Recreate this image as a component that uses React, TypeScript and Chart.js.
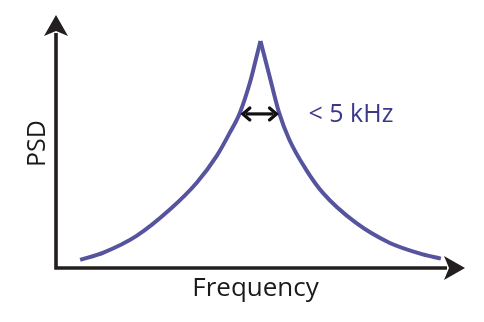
import React, { useEffect, useRef } from "react";
import { Chart, registerables } from "chart.js";

Chart.register(...registerables);

// Curve (arbitrary units: frequency 0-100, PSD 0-100)
const leftFreq = [5.9, 11.6, 19.7, 27.9, 34.4, 39.3, 42.5, 44.9, 47.4, 48.8, 50.0];
const leftPsd = [3.2, 6.1, 12.7, 23.2, 33.7, 44.3, 53.5, 61.1, 73.2, 82.0, 89.7];
const rightFreq = [50.0, 52.2, 54.6, 57.0, 61.1, 65.2, 73.3, 81.5, 89.7, 94.1];
const rightPsd = [89.7, 75.9, 61.1, 50.9, 39.0, 29.8, 17.9, 10.0, 5.4, 3.7];

// Width marker (double arrow) and labels
const widthMarkerFreq = [45.2, 54.4];
const widthMarkerPsd = 60.9;
const widthLabel = "< 5 kHz";
const xTitle = "Frequency";
const yTitle = "PSD";

const CURVE = "#57549f";
const AXIS = "#231f20";

function toPoints(xs: number[], ys: number[]) {
  return xs.map((x, i) => ({ x, y: ys[i] }));
}

const decorPlugin = {
  id: "decor",
  afterDraw(chart: any) {
    const ctx = chart.ctx as CanvasRenderingContext2D;
    const { left, right, top, bottom } = chart.chartArea;
    const xs = chart.scales.x;
    const ys = chart.scales.y;
    ctx.save();
    // axes
    ctx.strokeStyle = AXIS;
    ctx.fillStyle = AXIS;
    ctx.lineWidth = 3.6;
    ctx.beginPath();
    ctx.moveTo(left, bottom + 1.8);
    ctx.lineTo(left, top + 18);
    ctx.moveTo(left - 1.8, bottom);
    ctx.lineTo(right - 18, bottom);
    ctx.stroke();
    // y arrowhead
    ctx.beginPath();
    ctx.moveTo(left, top);
    ctx.lineTo(left + 12, top + 21);
    ctx.lineTo(left, top + 16);
    ctx.lineTo(left - 12, top + 21);
    ctx.closePath();
    ctx.fill();
    // x arrowhead
    ctx.beginPath();
    ctx.moveTo(right, bottom);
    ctx.lineTo(right - 21, bottom + 12);
    ctx.lineTo(right - 16, bottom);
    ctx.lineTo(right - 21, bottom - 12);
    ctx.closePath();
    ctx.fill();

    // axis titles
    ctx.fillStyle = "#1a1a1a";
    ctx.font = "26px 'Open Sans'";
    ctx.textAlign = "center";
    ctx.textBaseline = "alphabetic";
    ctx.fillText(xTitle, (left + right) / 2 - 5, bottom + 28);
    ctx.save();
    ctx.translate(left - 11, (top + bottom) / 2 + 2);
    ctx.rotate(-Math.PI / 2);
    ctx.font = "25px 'Open Sans'";
    ctx.fillText(yTitle, 0, 0);
    ctx.restore();

    // double arrow
    const x1 = xs.getPixelForValue(widthMarkerFreq[0]);
    const x2 = xs.getPixelForValue(widthMarkerFreq[1]);
    const y = ys.getPixelForValue(widthMarkerPsd);
    ctx.strokeStyle = "#111";
    ctx.fillStyle = "#111";
    ctx.lineWidth = 3.2;
    ctx.beginPath();
    ctx.moveTo(x1 + 5, y);
    ctx.lineTo(x2 - 5, y);
    ctx.stroke();
    ctx.lineWidth = 3.2;
    ctx.lineJoin = "miter";
    ctx.lineCap = "round";
    ctx.beginPath();
    ctx.moveTo(x1 + 9, y - 6);
    ctx.lineTo(x1 + 2, y);
    ctx.lineTo(x1 + 9, y + 6);
    ctx.moveTo(x2 - 9, y - 6);
    ctx.lineTo(x2 - 2, y);
    ctx.lineTo(x2 - 9, y + 6);
    ctx.stroke();

    // label
    ctx.fillStyle = "#3b388a";
    ctx.font = "25px 'Open Sans'";
    ctx.textAlign = "left";
    ctx.fillText(widthLabel, x2 + 30, y + 8);
    ctx.restore();
  },
};

export default function App() {
  const ref = useRef<HTMLCanvasElement | null>(null);
  useEffect(() => {
    if (!ref.current) return;
    const chart = new Chart(ref.current, {
      type: "line",
      data: {
        datasets: [
          {
            data: toPoints(leftFreq, leftPsd),
            borderColor: CURVE,
            borderWidth: 4,
            pointRadius: 0,
            cubicInterpolationMode: "monotone",
          },
          {
            data: toPoints(rightFreq, rightPsd),
            borderColor: CURVE,
            borderWidth: 4,
            pointRadius: 0,
            cubicInterpolationMode: "monotone",
          },
        ],
      },
      options: {
        animation: false,
        responsive: false,
        events: [],
        layout: { padding: { left: 56, right: 19, top: 15, bottom: 54 } },
        plugins: { legend: { display: false }, tooltip: { enabled: false } },
        scales: {
          x: { type: "linear", min: 0, max: 100, display: false },
          y: { type: "linear", min: 0, max: 100, display: false },
        },
      },
      plugins: [decorPlugin],
    } as any);
    return () => chart.destroy();
  }, []);
  return (
    <div style={{ position: "absolute", left: 0, top: 0, width: 484, height: 322, background: "#fff" }}>
      <canvas ref={ref} width={484} height={322} />
    </div>
  );
}
